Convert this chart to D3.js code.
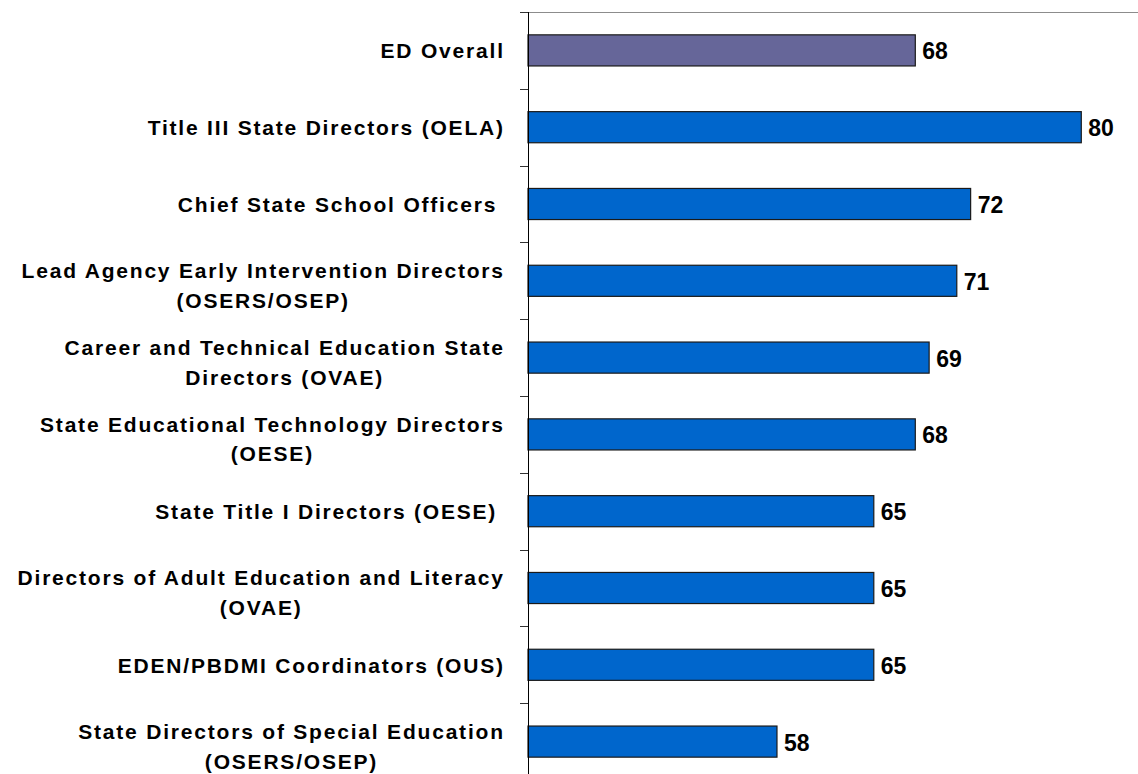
<!DOCTYPE html>
<html>
<head>
<meta charset="utf-8">
<script src="https://cdn.jsdelivr.net/npm/d3@7"></script>
<style>
  body { margin: 0; background: #fff; }
  .cat { font-family: "Liberation Sans", Arial, sans-serif; font-weight: bold; font-size: 21px; letter-spacing: 1.8px; fill: #000; white-space: pre; }
  .value { font-family: "Liberation Sans", Arial, sans-serif; font-weight: bold; font-size: 23px; fill: #000; }
</style>
</head>
<body>
<svg class="svg" width="1138" height="774"></svg>
<script>
// categories, top to bottom (line breaks as in the chart)
const categories = [
  'ED Overall',
  'Title III State Directors (OELA)',
  'Chief State School Officers ',
  'Lead Agency Early Intervention Directors\n(OSERS/OSEP)',
  'Career and Technical Education State\nDirectors (OVAE)',
  'State Educational Technology Directors\n(OESE)',
  'State Title I Directors (OESE) ',
  'Directors of Adult Education and Literacy\n(OVAE)',
  'EDEN/PBDMI Coordinators (OUS)',
  'State Directors of Special Education\n(OSERS/OSEP)',
]

const values = [68, 80, 72, 71, 69, 68, 65, 65, 65, 58]

const isOverall = [true, false, false, false, false, false, false, false, false, false]

const xDomain = [40, 84.1]

const data = categories.map((c, i) => ({ cat: c, value: values[i], overall: isOverall[i] }))

const svg = d3.select('.svg')

const axisX = 528
const plotTop = 12
const plotBottom = 780

const xScale = d3.scaleLinear()
  .domain(xDomain)
  .range([axisX, 1138])

const yScale = d3.scaleBand()
  .domain(categories)
  .range([plotTop, plotBottom])
  .paddingInner(0.595)
  .paddingOuter(0.2975)

// top border line
svg.append('line')
  .attr('x1', axisX)
  .attr('x2', 1138)
  .attr('y1', plotTop + 0.5)
  .attr('y2', plotTop + 0.5)
  .attr('stroke', '#8c8c8c')
  .attr('stroke-width', 1)

// bars
svg.selectAll('.bar')
  .data(data)
  .enter()
  .append('rect')
  .attr('class', 'bar')
  .attr('x', axisX)
  .attr('y', d => yScale(d.cat))
  .attr('width', d => xScale(d.value) - axisX)
  .attr('height', yScale.bandwidth())
  .attr('fill', d => d.overall ? '#666699' : '#0066CC')
  .attr('stroke', '#1a1a1a')
  .attr('stroke-width', 1.2)

// value labels
svg.selectAll('.value')
  .data(data)
  .enter()
  .append('text')
  .attr('class', 'value')
  .attr('x', d => xScale(d.value) + 7)
  .attr('y', d => yScale(d.cat) + yScale.bandwidth() / 2 + 9)
  .text(d => d.value)

// axis line and ticks
svg.append('line')
  .attr('x1', axisX + 0.5)
  .attr('x2', axisX + 0.5)
  .attr('y1', plotTop)
  .attr('y2', 774)
  .attr('stroke', '#000')
  .attr('stroke-width', 1)

svg.selectAll('.tick')
  .data(categories)
  .enter()
  .append('line')
  .attr('class', 'tick')
  .attr('x1', axisX - 8)
  .attr('x2', axisX)
  .attr('y1', d => Math.round(yScale(d) - yScale.step() * yScale.paddingOuter()) + 0.5)
  .attr('y2', d => Math.round(yScale(d) - yScale.step() * yScale.paddingOuter()) + 0.5)
  .attr('stroke', '#333')
  .attr('stroke-width', 1)

// category labels, right aligned block, lines centred inside it
const labelRight = 503
const lineH = 29.5

data.forEach(d => {
  const lines = d.cat.split('\n')
  const mid = yScale(d.cat) + yScale.bandwidth() / 2
  const g = svg.append('g')
  const texts = lines.map((ln, j) => {
    const off = lines.length === 1 ? 0 : 4.5 + (j - (lines.length - 1) / 2) * lineH
    return g.append('text')
      .attr('class', 'cat')
      .attr('y', mid + off + 7.7)
      .text(ln)
  })
  const widths = texts.map(t => t.node().getComputedTextLength())
  const w = d3.max(widths)
  const center = labelRight + 1.8 - w / 2
  texts.forEach(t => t.attr('x', center).attr('text-anchor', 'middle'))
})
</script>
</body>
</html>
